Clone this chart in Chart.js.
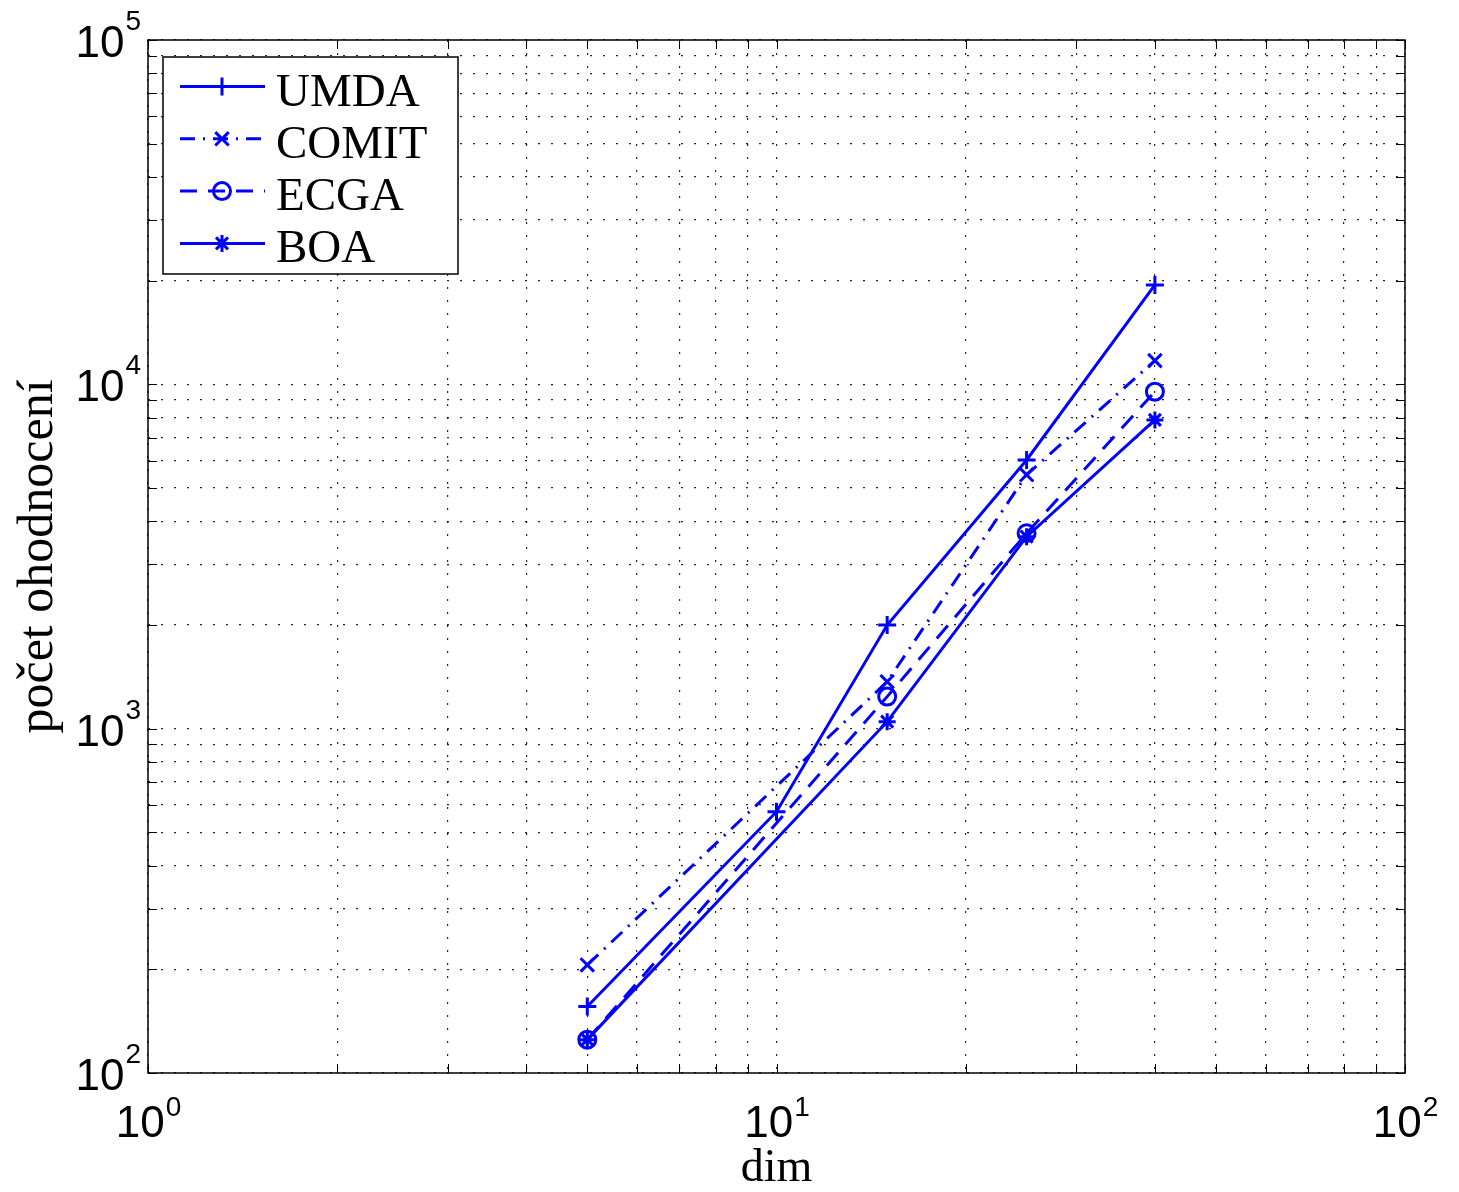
<!DOCTYPE html>
<html>
<head>
<meta charset="utf-8">
<script src="https://cdn.jsdelivr.net/npm/chart.js@4/dist/chart.umd.min.js"></script>
<style>
  html, body { margin: 0; padding: 0; background: #fff; }
  #chart { display: block; }
</style>
</head>
<body>
<canvas id="chart" width="1459" height="1192"></canvas>
<script>
// values
const dimsUmda = [5, 10, 15, 25, 40];
const dimsOther = [5, 15, 25, 40];
const umda = [156, 574, 2000, 6030, 19440];
const comit = [206, 1369, 5460, 11720];
const ecga = [125, 1239, 3693, 9524];
const boa = [125, 1048, 3611, 7882];

const seriesNames = ['UMDA', 'COMIT', 'ECGA', 'BOA'];
const xExponents = [0, 1, 2];
const yExponents = [2, 3, 4, 5];

const BLUE = '#0000ff';

function logTicks(minExp, maxExp) {
    const ticks = [];
    for (let e = minExp; e < maxExp; e++) {
        for (let m = 1; m < 10; m++) ticks.push({ value: m * Math.pow(10, e) });
    }
    ticks.push({ value: Math.pow(10, maxExp) });
    return ticks;
}

function toPoints(xs, ys) {
    return xs.map((x, i) => ({ x: x, y: ys[i] }));
}

function drawMarker(ctx, style, x, y, r) {
    ctx.beginPath();
    if (style === 'circle') {
        ctx.arc(x, y, r, 0, Math.PI * 2);
    }
    if (style === 'cross' || style === 'star') {
        ctx.moveTo(x - r, y); ctx.lineTo(x + r, y);
        ctx.moveTo(x, y - r); ctx.lineTo(x, y + r);
    }
    if (style === 'crossRot' || style === 'star') {
        const d = r * Math.SQRT1_2;
        ctx.moveTo(x - d, y - d); ctx.lineTo(x + d, y + d);
        ctx.moveTo(x - d, y + d); ctx.lineTo(x + d, y - d);
    }
    ctx.stroke();
}

const matlabLook = {
    id: 'matlabLook',
    afterDraw(chart) {
        const ctx = chart.ctx;
        const a = chart.chartArea;
        const xs = chart.scales.x;
        const ys = chart.scales.y;

        ctx.save();
        ctx.setLineDash([]);
        ctx.strokeStyle = '#000';

        // inward tick marks on all four sides
        ctx.lineWidth = 1;
        const tl = 9;
        ctx.beginPath();
        xs.ticks.forEach(t => {
            const px = Math.round(xs.getPixelForValue(t.value)) + 0.5;
            ctx.moveTo(px, a.bottom); ctx.lineTo(px, a.bottom - tl);
            ctx.moveTo(px, a.top); ctx.lineTo(px, a.top + tl);
        });
        ys.ticks.forEach(t => {
            const py = Math.round(ys.getPixelForValue(t.value)) + 0.5;
            ctx.moveTo(a.left, py); ctx.lineTo(a.left + tl, py);
            ctx.moveTo(a.right, py); ctx.lineTo(a.right - tl, py);
        });
        ctx.stroke();

        // axes box
        ctx.lineWidth = 1.5;
        ctx.strokeRect(a.left, a.top, a.right - a.left, a.bottom - a.top);

        // tick labels 10^n
        const baseFont = '44px "Liberation Sans", Arial, sans-serif';
        const expFont = '28px "Liberation Sans", Arial, sans-serif';
        ctx.fillStyle = '#000';
        ctx.textBaseline = 'alphabetic';
        ctx.textAlign = 'left';
        xExponents.forEach(e => {
            const px = xs.getPixelForValue(Math.pow(10, e));
            ctx.font = baseFont;
            const wb = ctx.measureText('10').width;
            ctx.font = expFont;
            const we = ctx.measureText(String(e)).width;
            const x0 = px - (wb + we) / 2;
            const base = a.bottom + 64;
            ctx.font = baseFont;
            ctx.fillText('10', x0, base);
            ctx.font = expFont;
            ctx.fillText(String(e), x0 + wb + 1, base - 21);
        });
        yExponents.forEach(e => {
            const py = ys.getPixelForValue(Math.pow(10, e));
            ctx.font = expFont;
            const we = ctx.measureText(String(e)).width;
            ctx.font = baseFont;
            const wb = ctx.measureText('10').width;
            const xr = a.left - 7;
            const base = py + 17;
            ctx.fillText('10', xr - we - wb - 1, base);
            ctx.font = expFont;
            ctx.fillText(String(e), xr - we, base - 27);
        });

        // legend box inside the axes
        const lx = 163, ly = 57, lw = 295, lh = 217;
        ctx.fillStyle = '#fff';
        ctx.fillRect(lx, ly, lw, lh);
        ctx.lineWidth = 1.5;
        ctx.strokeStyle = '#000';
        ctx.strokeRect(lx, ly, lw, lh);

        chart.data.datasets.forEach((ds, i) => {
            const rowY = 86.5 + i * 52.3;
            ctx.strokeStyle = ds.borderColor;
            ctx.lineWidth = ds.borderWidth;
            ctx.setLineDash(ds.borderDash || []);
            ctx.beginPath();
            ctx.moveTo(180, rowY);
            ctx.lineTo(265, rowY);
            ctx.stroke();
            ctx.setLineDash([]);
            ctx.lineWidth = ds.pointBorderWidth;
            drawMarker(ctx, ds.pointStyle, 222, rowY, ds.pointRadius);
            ctx.fillStyle = '#000';
            ctx.font = '47px "Liberation Serif", "Times New Roman", serif';
            ctx.fillText(ds.label, 276, rowY + 19);
        });

        ctx.restore();
    }
};

const common = {
    borderColor: BLUE,
    backgroundColor: 'transparent',
    pointBorderColor: BLUE,
    pointBackgroundColor: 'transparent',
    borderWidth: 3,
    pointBorderWidth: 3,
    fill: false,
    tension: 0
};

const chart = new Chart(document.getElementById('chart'), {
    type: 'line',
    data: {
        datasets: [
            Object.assign({}, common, {
                label: seriesNames[0], data: toPoints(dimsUmda, umda),
                pointStyle: 'cross', pointRadius: 9, borderDash: []
            }),
            Object.assign({}, common, {
                label: seriesNames[1], data: toPoints(dimsOther, comit),
                pointStyle: 'crossRot', pointRadius: 9.5, borderDash: [15, 8, 2, 8]
            }),
            Object.assign({}, common, {
                label: seriesNames[2], data: toPoints(dimsOther, ecga),
                pointStyle: 'circle', pointRadius: 8.5, borderDash: [17, 11]
            }),
            Object.assign({}, common, {
                label: seriesNames[3], data: toPoints(dimsOther, boa),
                pointStyle: 'star', pointRadius: 8.5, borderDash: []
            })
        ]
    },
    options: {
        responsive: false,
        animation: false,
        devicePixelRatio: 1,
        layout: { padding: { top: 40, right: 54, bottom: 0, left: 0 } },
        plugins: {
            legend: { display: false },
            tooltip: { enabled: false }
        },
        scales: {
            x: {
                type: 'logarithmic',
                position: 'bottom',
                min: 1,
                max: 100,
                afterBuildTicks: s => { s.ticks = logTicks(0, 2); },
                afterFit: s => { s.height = 119; },
                ticks: { display: false },
                grid: {
                    color: 'rgba(0,0,0,0.85)',
                    lineWidth: 1.2,
                    drawTicks: false
                },
                border: { display: false, dash: [2, 11] },
                title: {
                    display: true,
                    text: 'dim',
                    color: '#000',
                    font: { family: '"Liberation Serif", "Times New Roman", serif', size: 46, lineHeight: 1 },
                    padding: { top: 0, bottom: 0 }
                }
            },
            y: {
                type: 'logarithmic',
                position: 'left',
                min: 100,
                max: 100000,
                afterBuildTicks: s => { s.ticks = logTicks(2, 5); },
                afterFit: s => { s.width = 148; },
                ticks: { display: false },
                grid: {
                    color: 'rgba(0,0,0,0.85)',
                    lineWidth: 1.2,
                    drawTicks: false
                },
                border: { display: false, dash: [2, 11] },
                title: {
                    display: true,
                    text: 'počet ohodnocení',
                    color: '#000',
                    font: { family: '"Liberation Serif", "Times New Roman", serif', size: 50, lineHeight: 1.2 },
                    padding: { top: 9, bottom: 0 }
                }
            }
        }
    },
    plugins: [matlabLook]
});
</script>
</body>
</html>
